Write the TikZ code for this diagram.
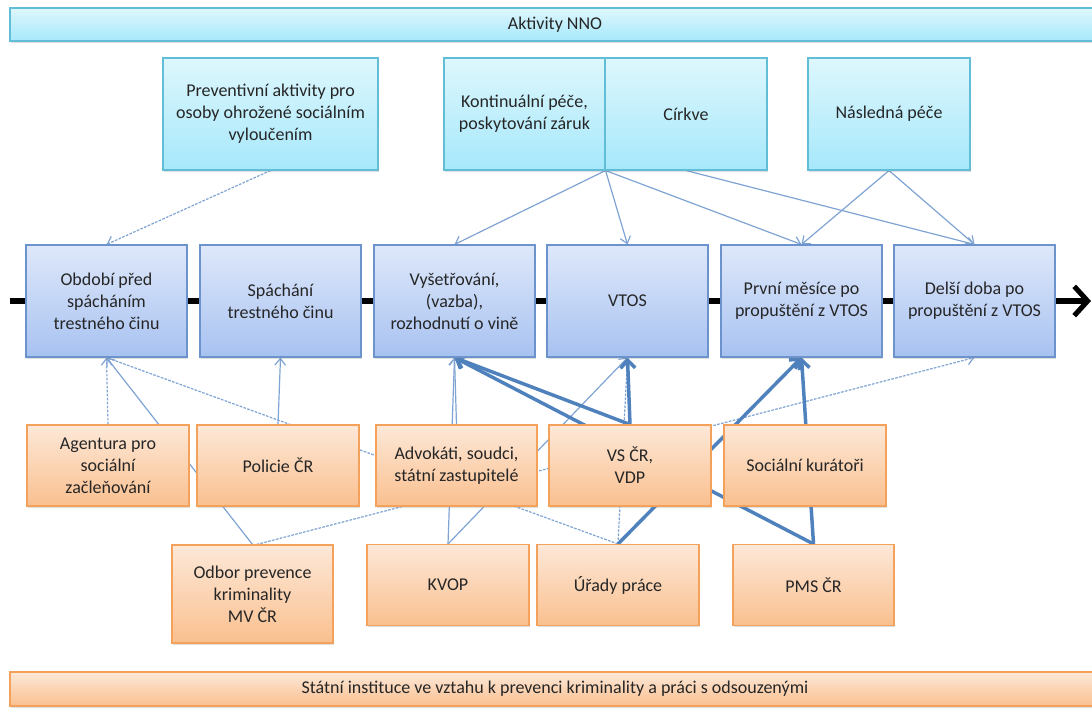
\documentclass[tikz,border=0pt]{standalone}
\usepackage{fontspec}
\setmainfont{Carlito}
\usetikzlibrary{arrows.meta,shadows}
\pgfdeclarelayer{bg}
\pgfsetlayers{bg,main}

\definecolor{txt}{HTML}{262626}
\definecolor{cyanline}{HTML}{62BDD6}
\definecolor{cyantop}{HTML}{DEF7FD}
\definecolor{cyanbot}{HTML}{A6E8FB}
\definecolor{blueline}{HTML}{6D93CC}
\definecolor{bluetop}{HTML}{DFE8FA}
\definecolor{bluebot}{HTML}{A7C2F1}
\definecolor{orangeline}{HTML}{F4A15C}
\definecolor{orangetop}{HTML}{FDE8D8}
\definecolor{orangebot}{HTML}{FAC08F}
\definecolor{relblue}{HTML}{7FA3D3}
\definecolor{strongblue}{HTML}{4F81BD}

\tikzset{
  box/.style={rectangle, line width=0.8pt, inner sep=0pt, align=center,
    text=txt, font=\fontsize{13.5}{16.5}\selectfont,
    minimum width=120.75pt, minimum height=84pt,
    drop shadow={shadow xshift=0.8pt, shadow yshift=-1.2pt, opacity=0.25}},
  nno/.style={box, draw=cyanline, top color=cyantop, bottom color=cyanbot},
  phase/.style={box, draw=blueline, top color=bluetop, bottom color=bluebot},
  inst/.style={box, draw=orangeline, top color=orangetop, bottom color=orangebot,
    minimum height=60.75pt},
  rel/.style={draw=relblue, line width=0.9pt, -{Straight Barb[length=5pt,width=8pt]}},
  relhint/.style={rel, dash pattern=on 2pt off 1pt},
  relstrong/.style={draw=strongblue, line width=2.6pt,
    -{Straight Barb[length=6pt,width=11pt]}}
}

\begin{document}
\begin{tikzpicture}[x=0.75pt, y=-0.75pt]
  \useasboundingbox (0,0) rectangle (1092,707);

  % pasy nahore a dole
  \node[nno, minimum width=817.5pt, minimum height=24.75pt] (nno) at (555,24.5) {Aktivity NNO};
  \node[inst, minimum width=817.5pt, minimum height=25.5pt] (stat) at (555,689)
    {Státní instituce ve vztahu k prevenci kriminality a práci s odsouzenými};

  % aktivity NNO
  \node[nno, minimum width=161.25pt] (prev) at (270.5,114) {Preventivní aktivity pro\\osoby ohrožené sociálním\\vyloučením};
  \node[nno] (kont) at (524.5,114) {Kontinuální péče,\\poskytování záruk};
  \node[nno, minimum width=121.5pt] (cirk) at (686,114) {Církve};
  \node[nno, minimum width=121.5pt] (nasl) at (889,114) {Následná péče};

  % faze
  \node[phase] (obd) at (106.5,301) {Období před\\spácháním\\trestného činu};
  \node[phase] (spa) at (280.5,301) {Spáchání\\trestného činu};
  \node[phase] (vys) at (454.5,301) {Vyšetřování,\\(vazba),\\rozhodnutí o vině};
  \node[phase] (vtos) at (627.5,301) {VTOS};
  \node[phase] (prv) at (801.5,301) {První měsíce po\\propuštění z VTOS};
  \node[phase] (del) at (974.5,301) {Delší doba po\\propuštění z VTOS};

  % statni instituce
  \node[inst, minimum width=121.5pt] (agen) at (108,465.5) {Agentura pro\\sociální\\začleňování};
  \node[inst, minimum width=121.5pt] (pol) at (278,465.5) {Policie ČR};
  \node[inst] (adv) at (456.5,465.5) {Advokáti, soudci,\\státní zastupitelé};
  \node[inst, minimum width=121.5pt] (vs) at (630,465.5) {VS ČR,\\VDP};
  \node[inst, minimum width=121.5pt] (kur) at (805,465.5) {Sociální kurátoři};
  \node[inst, minimum height=73.5pt] (odb) at (252.5,594) {Odbor prevence\\kriminality\\MV ČR};
  \node[inst, minimum width=121.5pt] (kvop) at (448,585) {KVOP};
  \node[inst, minimum width=121.5pt] (urad) at (618,585) {Úřady práce};
  \node[inst] (pms) at (813.5,585) {PMS ČR};

  \coordinate (t0) at (10,301);
  \coordinate (t1) at (1091,301);

  \begin{pgfonlayer}{bg}
    \draw[line width=3.8pt, -{Straight Barb[length=10pt,width=22pt]}] (t0) -- (t1);
    \begin{scope}[relhint]
      \draw (prev.south) to (obd.north);
      \draw (agen.north) to (obd.south);
      \draw (urad.north) to (obd.south);
      \draw (urad.north) to (vtos.south);
      \draw ([xshift=3pt]odb.north) to (del.south);
    \end{scope}
    \begin{scope}[rel]
      \draw (kont.south east) to (vys.north);
      \draw (kont.south east) to (vtos.north);
      \draw (kont.south east) to (prv.north);
      \draw (cirk.south) to (del.north);
      \draw (nasl.south) to (prv.north);
      \draw (nasl.south) to (del.north);
      \draw (odb.north) to (obd.south);
      \draw (pol.north) to (spa.south);
      \draw (kvop.north) to (vys.south);
      \draw (adv.north) to (vys.south);
      \draw (kvop.north) to (vtos.south);
    \end{scope}
    \begin{scope}[relstrong]
      \draw (vs.north) to (vys.south);
      \draw (vs.north) to (vtos.south);
      \draw (pms.north) to (vys.south);
      \draw (urad.north) to (prv.south);
      \draw (pms.north) to (prv.south);
    \end{scope}
  \end{pgfonlayer}
\end{tikzpicture}
\end{document}
